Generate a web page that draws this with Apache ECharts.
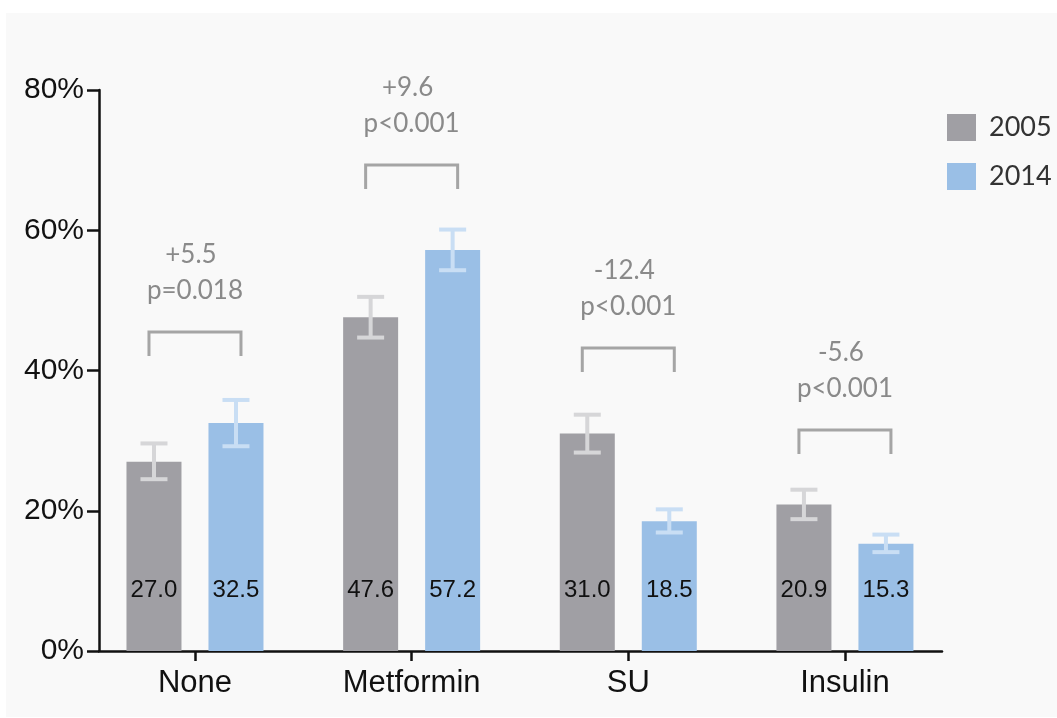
<!DOCTYPE html>
<html>
<head>
<meta charset="utf-8">
<title>Glucose-lowering therapy 2005 vs 2014</title>
<script src="https://cdn.jsdelivr.net/npm/echarts@6/dist/echarts.min.js"></script>
<style>
  html, body { margin: 0; padding: 0; background: #ffffff; }
  #panel { position: absolute; left: 6px; top: 13px; width: 1051px; height: 704px; background: #f9f9f9; }
  #chart { position: absolute; left: 0; top: 0; width: 1057px; height: 718px; }
</style>
</head>
<body>
<div id="panel"></div>
<div id="chart"></div>
<script>
// Treatment groups along the x axis
const categories = ['None', 'Metformin', 'SU', 'Insulin'];
const seriesNames = ['2005', '2014'];

// Share of patients (%) per treatment group
const values2005 = [27.0, 47.6, 31.0, 20.9];
const values2014 = [32.5, 57.2, 18.5, 15.3];

// Confidence interval bounds (%)
const ci2005Low  = [24.5, 44.7, 28.3, 18.8];
const ci2005High = [29.6, 50.5, 33.7, 23.0];
const ci2014Low  = [29.2, 54.3, 16.9, 14.1];
const ci2014High = [35.8, 60.1, 20.2, 16.6];

// Change between years and significance, with the height (%) of each bracket
const changeLabels = ['+5.5', '+9.6', '-12.4', '-5.6'];
const pValueLabels = ['p=0.018', 'p<0.001', 'p<0.001', 'p<0.001'];
const bracketLevels = [45.5, 69.3, 43.2, 31.5];

// Y axis range
const yMin = 0, yMax = 80, yStep = 20;

const COLORS = { y2005: '#a09fa4', y2014: '#9abfe6', err2005: '#d6d6d8', err2014: '#c9def4' };
const BAR_WIDTH = 55;
const BAR_GAP_PX = 27;
const HALF_PAIR = BAR_WIDTH / 2 + BAR_GAP_PX / 2;
const catIdx = categories.map((_, i) => i);

const chart = echarts.init(document.getElementById('chart'), null, { renderer: 'canvas' });

function barData(vals) { return vals.map((v, i) => [i, v]); }
function errData(lo, hi) { return lo.map((l, i) => [i, l, hi[i]]); }

function errorRenderer(shift, color) {
  return function (params, api) {
    const i = api.value(0);
    const top = api.coord([i, api.value(2)]);
    const bot = api.coord([i, api.value(1)]);
    const cx = top[0] + shift;
    const cap = 13.5;
    const style = { stroke: color, lineWidth: 4, fill: null };
    return {
      type: 'group',
      children: [
        { type: 'line', shape: { x1: cx, y1: top[1], x2: cx, y2: bot[1] }, style },
        { type: 'line', shape: { x1: cx - cap, y1: top[1], x2: cx + cap, y2: top[1] }, style },
        { type: 'line', shape: { x1: cx - cap, y1: bot[1], x2: cx + cap, y2: bot[1] }, style }
      ]
    };
  };
}

function bracketRenderer(params, api) {
  const i = api.value(0);
  const p = api.coord([i, api.value(1)]);
  const cx = p[0], y = p[1];
  const half = 46, leg = 24;
  const font = '26px Lato, "Open Sans", sans-serif';
  return {
    type: 'group',
    children: [
      {
        type: 'polyline',
        shape: { points: [[cx - half, y + leg], [cx - half, y], [cx + half, y], [cx + half, y + leg]] },
        style: { stroke: '#a5a5a5', lineWidth: 3, fill: null }
      },
      {
        type: 'text', x: cx - 4, y: y - 77,
        style: { text: changeLabels[i], font: font, fill: '#8a8a8a', align: 'center', verticalAlign: 'middle' }
      },
      {
        type: 'text', x: cx, y: y - 41,
        style: { text: pValueLabels[i], font: font, fill: '#8a8a8a', align: 'center', verticalAlign: 'middle' }
      }
    ]
  };
}

const barLabel = {
  show: true,
  position: 'insideBottom',
  distance: 49,
  fontFamily: '"Liberation Sans", Arial, sans-serif',
  fontSize: 24,
  color: '#111111',
  formatter: p => p.value[1].toFixed(1)
};

const option = {
  animation: false,
  backgroundColor: 'transparent',
  grid: { left: 99, right: 115, top: 90, bottom: 67, containLabel: false },
  legend: {
    data: seriesNames,
    orient: 'vertical',
    left: 942,
    top: 109,
    icon: 'rect',
    itemWidth: 29,
    itemHeight: 27,
    itemGap: 22,
    textStyle: { fontFamily: 'Lato, "Open Sans", sans-serif', fontSize: 27, color: '#333333', padding: [0, 0, 0, 8] }
  },
  xAxis: {
    type: 'value',
    min: -0.443,
    max: 3.448,
    splitLine: { show: false },
    axisLine: { show: true, onZero: false, lineStyle: { color: '#111111', width: 2.5 } },
    axisTick: { show: true, customValues: catIdx, length: 10, lineStyle: { color: '#111111', width: 2.5 } },
    axisLabel: {
      customValues: catIdx,
      formatter: v => categories[Math.round(v)],
      margin: 17,
      fontFamily: '"Liberation Sans", Arial, sans-serif',
      fontSize: 31,
      color: '#111111'
    }
  },
  yAxis: {
    type: 'value',
    min: yMin,
    max: yMax,
    interval: yStep,
    splitLine: { show: false },
    axisLine: { show: true, onZero: false, lineStyle: { color: '#111111', width: 2.5 } },
    axisTick: { show: true, length: 12, lineStyle: { color: '#111111', width: 2.5 } },
    axisLabel: {
      formatter: '{value}%',
      margin: 15,
      fontFamily: '"Liberation Sans", Arial, sans-serif',
      fontSize: 30,
      color: '#111111'
    }
  },
  series: [
    {
      name: seriesNames[0], type: 'bar', data: barData(values2005),
      barWidth: BAR_WIDTH, barGap: (BAR_GAP_PX / BAR_WIDTH * 100) + '%',
      itemStyle: { color: COLORS.y2005 }, label: barLabel
    },
    {
      name: seriesNames[1], type: 'bar', data: barData(values2014),
      barWidth: BAR_WIDTH, barGap: (BAR_GAP_PX / BAR_WIDTH * 100) + '%',
      itemStyle: { color: COLORS.y2014 }, label: barLabel
    },
    {
      name: 'ci-2005', type: 'custom', data: errData(ci2005Low, ci2005High),
      renderItem: errorRenderer(-HALF_PAIR, COLORS.err2005), z: 3
    },
    {
      name: 'ci-2014', type: 'custom', data: errData(ci2014Low, ci2014High),
      renderItem: errorRenderer(HALF_PAIR, COLORS.err2014), z: 3
    },
    {
      name: 'change', type: 'custom', data: bracketLevels.map((b, i) => [i, b]),
      renderItem: bracketRenderer, z: 4
    }
  ]
};

chart.setOption(option);
</script>
</body>
</html>
